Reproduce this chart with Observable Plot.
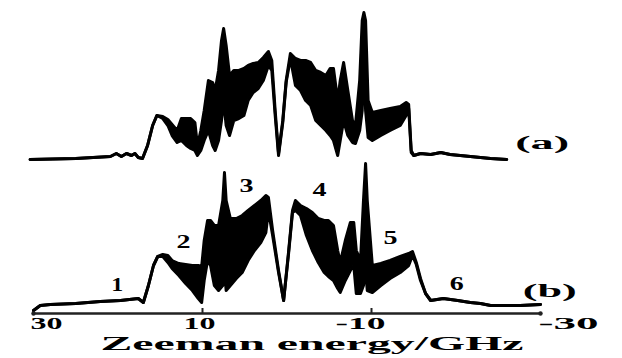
<!DOCTYPE html>
<html><head><meta charset="utf-8">
<script src="https://cdn.jsdelivr.net/npm/d3@7"></script>
<script src="https://cdn.jsdelivr.net/npm/@observablehq/plot@0.6"></script>
<style>
html,body{margin:0;padding:0;background:#fff;}
#chart{width:622px;height:358px;overflow:hidden}
</style></head>
<body><div id="chart"></div>
<script>
// Spectrum (a): Zeeman energy (GHz), upper and lower envelope of the trace (arb. units above its baseline)
const energyA = [30.4,25.0,20.9,20.2,19.6,19.0,18.4,18.0,17.6,17.1,16.5,15.9,15.4,14.7,14.1,13.6,13.0,12.5,11.9,11.4,10.9,10.6,10.2,9.8,9.3,8.8,8.5,8.1,7.75,7.5,7.2,6.8,6.3,5.7,5.1,4.6,4.0,3.4,2.8,2.2,1.8,1.4,1.0,0.5,0.1,-0.4,-1.0,-1.6,-2.2,-2.8,-3.4,-4.0,-4.6,-5.1,-5.5,-6.0,-6.3,-6.7,-7.2,-7.75,-8.1,-8.6,-8.9,-9.1,-9.3,-9.6,-10.1,-11.1,-12.2,-13.4,-14.1,-14.4,-14.7,-15.0,-15.8,-17.0,-18.2,-19.3,-20.5,-21.7,-22.9,-24.1,-26.0];
const upperA  = [0,1,3,6,3,6,4,6,2,1,14,34,44,43,40,35,29,41,41,41,37,14,29,49,79,77,69,89,119,131,114,84,89,89,91,94,96,97,102,108,99,49,6,39,79,106,101,99,99,97,89,87,84,91,91,59,79,97,69,39,34,79,139,147,139,59,47,49,51,53,57,55,9,4,6,5,7,5,4,3,2,1,0];
const lowerA  = [0,1,3,6,3,6,4,6,2,1,14,34,44,41,34,24,17,19,14,11,9,4,9,19,29,14,9,19,39,59,34,24,39,41,44,59,67,71,79,94,89,44,4,37,77,101,74,69,59,54,39,34,29,24,19,4,19,39,24,17,16,29,49,99,49,22,19,24,29,34,44,51,7,4,6,5,7,5,4,3,2,1,0];

// Spectrum (b)
const energyB = [30.0,29.2,28.0,25.0,22.1,19.7,17.6,17.0,16.4,15.8,15.3,14.7,14.1,13.6,12.8,12.0,11.2,10.5,10.1,9.8,9.4,9.05,8.6,8.1,7.6,7.4,7.2,6.7,6.0,5.3,4.6,3.85,3.1,2.5,2.2,1.7,1.0,0.4,-0.2,-0.65,-1.0,-1.6,-2.3,-3.0,-3.7,-4.4,-4.9,-5.5,-6.0,-6.3,-6.9,-7.5,-7.9,-8.2,-8.7,-9.05,-9.3,-9.5,-10.1,-11.1,-12.2,-13.4,-14.4,-14.85,-15.3,-15.8,-16.4,-17.0,-18.5,-20.2,-21.7,-22.9,-24.1,-25.9,-27.6,-30.0];
const upperB  = [3,8,9,10,12,13,15,11,28,48,57,59,58,53,50,49,48,48,47,73,93,93,88,88,113,141,113,95,95,98,103,108,113,118,116,83,43,13,63,103,113,108,105,101,95,93,93,88,63,51,73,91,91,63,53,113,150,113,48,50,53,57,60,62,51,35,20,13,15,13,11,10,8,8,8,9];
const lowerB  = [3,8,9,10,12,13,15,11,28,48,57,57,51,45,38,30,23,15,11,33,53,48,28,23,28,43,23,28,35,41,53,63,71,81,103,78,41,13,61,101,103,98,78,63,51,41,37,33,25,21,33,43,48,20,20,28,43,23,21,28,35,41,48,58,49,33,20,13,15,13,11,10,8,8,8,9];

// Axis ticks and labels
const tickValues = [30, 10, -10, -30];
const tickLabels = ["30", "10", "-10", "-30"];
const axisTitle = "Zeeman energy/GHz";

// Peak numbers on spectrum (b)
const peakLabels = ["1", "2", "3", "4", "5", "6"];
const peakEnergy = [20.1, 12.25, 4.8, -3.85, -12.25, -20.1];
const peakHeight = [28, 71, 127, 123, 75, 29];

// Trace names
const traceLabels = ["(a)", "(b)"];
const traceLabelEnergy = [-30.2, -31.1];
const traceLabelHeight = [170, 22];

const OFFSET_A = 154; // vertical offset of spectrum (a)

const rowsA = energyA.map((e, i) => ({e, top: upperA[i] + OFFSET_A, bot: lowerA[i] + OFFSET_A}));
const rowsB = energyB.map((e, i) => ({e, top: upperB[i], bot: lowerB[i]}));
const peaks = peakLabels.map((t, i) => ({t, e: peakEnergy[i], h: peakHeight[i]}));
const traces = traceLabels.map((t, i) => ({t, e: traceLabelEnergy[i], h: traceLabelHeight[i]}));
const ticks = tickValues.map((v, i) => ({v, t: tickLabels[i]}));

const font = "'Liberation Serif', 'DejaVu Serif', serif";
const tickDx = [-3, -3, -11, -2];
const tickAnchor = ["start", "middle", "middle", "start"];

function traceMarks(rows) {
  return [
    Plot.areaY(rows, {x: "e", y1: "bot", y2: "top", fill: "#000"}),
    Plot.line(rows, {x: "e", y: "top", stroke: "#000", strokeWidth: 3, strokeLinejoin: "round", strokeLinecap: "round"}),
    Plot.line(rows, {x: "e", y: "bot", stroke: "#000", strokeWidth: 3, strokeLinejoin: "round", strokeLinecap: "round"})
  ];
}

const svg = Plot.plot({
  width: 622,
  height: 358,
  marginLeft: 33,
  marginRight: 82,
  marginTop: 0,
  marginBottom: 45,
  style: {background: "#fff", fontFamily: font, fontWeight: "bold", color: "#000", overflow: "visible"},
  x: {domain: [30, -30], axis: null},
  y: {domain: [0, 313], axis: null},
  marks: [
    ...traceMarks(rowsA),
    ...traceMarks(rowsB),
    Plot.ruleY([0], {stroke: "#222", strokeWidth: 2.5}),
    Plot.ruleX(tickValues.filter(v => Math.abs(v) < 30), {x: d => d, y1: 0, y2: 5, stroke: "#222", strokeWidth: 2}),
    Plot.dot(tickValues.filter(v => Math.abs(v) === 30), {x: d => d, y: 0, r: 2.2, fill: "#222"}),
    ...ticks.map((d, i) => Plot.text([d], {x: "v", y: () => 0, text: "t", dy: 10, dx: tickDx[i], textAnchor: tickAnchor[i], fontSize: 16, fill: "#000"})),
    Plot.text([axisTitle], {frameAnchor: "bottom", text: d => d, dy: 36, dx: 25, fontSize: 18, fill: "#000"}),
    Plot.text(peaks, {x: "e", y: "h", text: "t", fontSize: 18, fill: "#000"}),
    Plot.text(traces, {x: "e", y: "h", text: "t", fontSize: 18, fill: "#000"})
  ]
});

const lengths = {"30": 32, "10": 32, "-10": 50, "-30": 60, "Zeeman energy/GHz": 423, "(a)": 54, "(b)": 54,
  "1": 12, "2": 14, "3": 14, "4": 14, "5": 14, "6": 14};
d3.select(svg).selectAll("text").each(function() {
  const t = this.textContent;
  if (lengths[t] !== undefined) {
    d3.select(this).attr("textLength", lengths[t]).attr("lengthAdjust", "spacingAndGlyphs");
  }
});
document.getElementById("chart").appendChild(svg);
</script>
</body></html>
